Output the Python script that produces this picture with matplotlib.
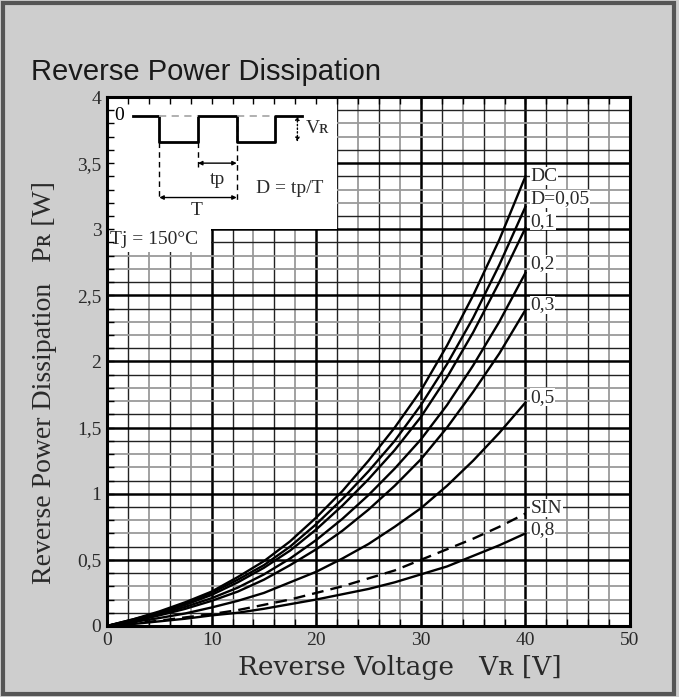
"""Reverse power dissipation vs reverse voltage, datasheet style."""
import numpy as np
import matplotlib
matplotlib.use("Agg")
import matplotlib.pyplot as plt
from matplotlib.patches import Rectangle

# reverse voltage (V) sample points
volts = [0, 2.5, 5, 7.5, 10, 12.5, 15, 17.5, 20, 22.5, 25, 27.5, 30, 32.5, 35, 37.5, 40]

# reverse power dissipation (W) per duty cycle
p_dc = [0, 0.05, 0.11, 0.18, 0.26, 0.37, 0.49, 0.64, 0.82, 1.02, 1.25, 1.50, 1.78, 2.12, 2.50, 2.92, 3.40]
p_005 = [0, 0.05, 0.10, 0.17, 0.25, 0.35, 0.46, 0.60, 0.77, 0.96, 1.17, 1.40, 1.67, 1.98, 2.33, 2.73, 3.17]
p_01 = [0, 0.045, 0.10, 0.16, 0.235, 0.33, 0.44, 0.57, 0.73, 0.91, 1.11, 1.33, 1.58, 1.88, 2.22, 2.60, 3.01]
p_02 = [0, 0.04, 0.09, 0.145, 0.21, 0.29, 0.39, 0.51, 0.65, 0.81, 0.99, 1.19, 1.41, 1.67, 1.97, 2.30, 2.67]
p_03 = [0, 0.035, 0.08, 0.13, 0.19, 0.26, 0.35, 0.46, 0.58, 0.72, 0.88, 1.06, 1.26, 1.50, 1.77, 2.06, 2.39]
p_05 = [0, 0.03, 0.06, 0.095, 0.14, 0.19, 0.25, 0.33, 0.41, 0.51, 0.62, 0.75, 0.89, 1.06, 1.25, 1.46, 1.69]
p_sin = [0, 0.02, 0.04, 0.065, 0.09, 0.12, 0.16, 0.20, 0.25, 0.30, 0.36, 0.42, 0.50, 0.58, 0.66, 0.75, 0.85]
p_08 = [0, 0.015, 0.035, 0.055, 0.08, 0.10, 0.13, 0.165, 0.20, 0.24, 0.28, 0.33, 0.39, 0.45, 0.53, 0.61, 0.70]

curve_labels = ["DC", "D=0,05", "0,1", "0,2", "0,3", "0,5", "SIN", "0,8"]
label_y = [3.40, 3.23, 3.06, 2.74, 2.43, 1.73, 0.89, 0.73]

x_ticks = [0, 10, 20, 30, 40, 50]
y_ticks = [0, 0.5, 1, 1.5, 2, 2.5, 3, 3.5, 4]
y_ticklabels = ["0", "0,5", "1", "1,5", "2", "2,5", "3", "3,5", "4"]

SERIF = ["Liberation Serif", "DejaVu Serif"]
BG = "#cecece"
INK = "#2a2a2a"

fig = plt.figure(figsize=(6.79, 6.97), dpi=100, facecolor=BG)
ax = fig.add_axes([0.1576, 0.1019, 0.7703, 0.7589])
ax.set_xlim(0, 50)
ax.set_ylim(0, 4)
ax.set_facecolor("white")

# paper grid: minor every 2 V / 0.1 W, heavy every 10 V / 0.5 W
for v in np.arange(2, 50, 2):
    if v % 10 == 0:
        ax.axvline(v, color="black", lw=1.8, zorder=1)
    elif v % 10 in (2, 6):
        ax.axvline(v, color="#222222", lw=1.0, zorder=1)
    else:
        ax.axvline(v, color="#9a9a9a", lw=1.3, zorder=1)
for k in range(1, 40):
    p = k / 10
    if k % 5 == 0:
        ax.axhline(p, color="black", lw=1.8, zorder=1)
    elif k % 5 in (1, 4):
        ax.axhline(p, color="#222222", lw=1.0, zorder=1)
    else:
        ax.axhline(p, color="#9a9a9a", lw=1.3, zorder=1)

# white inset area for the waveform sketch
ax.add_patch(Rectangle((0, 3.0), 22, 1.0, facecolor="white", edgecolor="none", zorder=1.6))
ax.add_patch(Rectangle((0, 2.83), 9.9, 0.2, facecolor="white", edgecolor="none", zorder=1.6))

series = [p_dc, p_005, p_01, p_02, p_03, p_05, p_sin, p_08]
for i, ys in enumerate(series):
    ls = (0, (5, 3)) if curve_labels[i] == "SIN" else "-"
    ax.plot(volts, ys, color="black", lw=1.7, ls=ls, zorder=3)

for lab, y in zip(curve_labels, label_y):
    ax.text(40.5, y, lab, family=SERIF, fontsize=14, va="center", ha="left",
            color=INK, zorder=4,
            bbox=dict(facecolor="white", edgecolor="none", pad=0.3))

# waveform sketch
hi, lo = 3.86, 3.66
wave_x = [2.5, 5.0, 5.0, 8.7, 8.7, 12.4, 12.4, 16.1, 16.1, 18.6]
wave_y = [hi, hi, lo, lo, hi, hi, lo, lo, hi, hi]
ax.plot(wave_x, wave_y, color="black", lw=2.0, zorder=4)
ax.plot([5.0, 8.7], [hi, hi], color="#aaaaaa", lw=1.3, ls=(0, (4, 3)), zorder=4)
ax.plot([12.4, 16.1], [hi, hi], color="#aaaaaa", lw=1.3, ls=(0, (4, 3)), zorder=4)
ax.plot([5.0, 5.0], [lo, 3.22], color="black", lw=1.0, ls=(0, (4, 3)), zorder=4)
ax.plot([12.4, 12.4], [hi, 3.22], color="black", lw=1.0, ls=(0, (4, 3)), zorder=4)
ax.plot([8.7, 8.7], [lo, 3.47], color="black", lw=1.0, ls=(0, (4, 3)), zorder=4)
ax.annotate("", xy=(8.7, 3.50), xytext=(12.4, 3.50),
            arrowprops=dict(arrowstyle="<|-|>", lw=1.0, color="black",
                            mutation_scale=6, shrinkA=0, shrinkB=0), zorder=4)
ax.annotate("", xy=(5.0, 3.24), xytext=(12.4, 3.24),
            arrowprops=dict(arrowstyle="<|-|>", lw=1.0, color="black",
                            mutation_scale=6, shrinkA=0, shrinkB=0), zorder=4)
ax.annotate("", xy=(18.2, hi), xytext=(18.2, lo),
            arrowprops=dict(arrowstyle="<|-|>", lw=1.0, color="black", ls=":",
                            mutation_scale=6, shrinkA=0, shrinkB=0), zorder=4)
ax.text(1.2, 3.86, "0", family=SERIF, fontsize=14, ha="center", va="center", zorder=4)
ax.text(19.0, 3.76, "V\u0280", family=SERIF, fontsize=14, ha="left", va="center",
        color=INK, zorder=4)
ax.text(10.6, 3.38, "tp", family=SERIF, fontsize=14, ha="center", va="center",
        color=INK, zorder=4)
ax.text(8.6, 3.14, "T", family=SERIF, fontsize=14, ha="center", va="center",
        color=INK, zorder=4)
ax.text(17.5, 3.31, "D = tp/T", family=SERIF, fontsize=14, ha="center", va="center",
        color=INK, zorder=4)
ax.text(0.3, 2.92, "Tj = 150\u00b0C", family=SERIF, fontsize=14, ha="left", va="center",
        color=INK, zorder=4)

ax.set_axisbelow(False)
for s in ax.spines.values():
    s.set_linewidth(2.2)
    s.set_zorder(5)
ax.set_xticks(x_ticks)
ax.set_yticks(y_ticks)
ax.set_yticklabels(y_ticklabels)
ax.set_xticks(np.arange(0, 51, 2), minor=True)
ax.set_yticks(np.arange(0, 4.01, 0.1), minor=True)
ax.tick_params(which="both", direction="in", length=5, width=1.0, color="black",
               top=True, right=False, zorder=5)
ax.tick_params(which="major", labelsize=14, labelcolor=INK, pad=4)
for t in ax.get_xticklabels() + ax.get_yticklabels():
    t.set_family(SERIF)

ax.set_xlabel("Reverse Voltage   V\u0280 [V]", family=["DejaVu Serif"], fontsize=19,
              color=INK, labelpad=4)
ax.xaxis.set_label_coords(0.56, -0.055)
ax.set_ylabel("Reverse Power Dissipation   P\u0280 [W]", family=SERIF, fontsize=20,
              color=INK, labelpad=7)
ax.yaxis.set_label_coords(-0.095, 0.46)
fig.text(0.045, 0.896, "Reverse Power Dissipation", family=["Liberation Sans", "DejaVu Sans"],
         fontsize=21, color="#1a1a1a", ha="left", va="center")

fig.add_artist(Rectangle((0.005, 0.005), 0.988, 0.99, transform=fig.transFigure,
                         facecolor="none", edgecolor="#555555", lw=3))

fig.savefig("out.png", dpi=100, facecolor=BG)
